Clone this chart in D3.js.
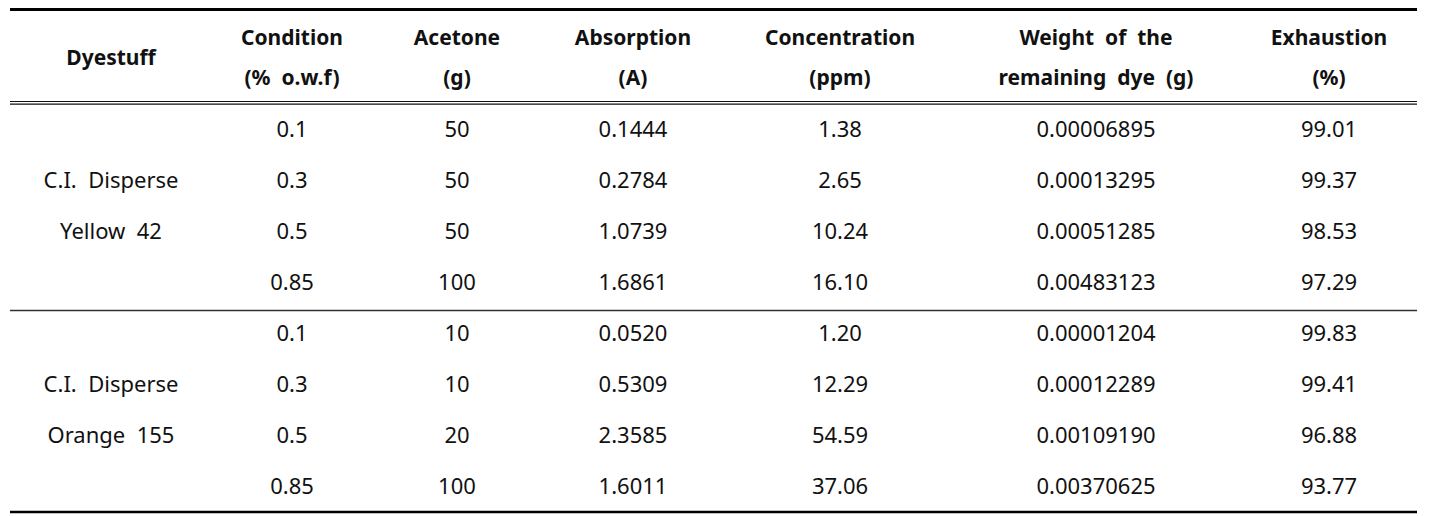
<!DOCTYPE html>
<html>
<head>
<meta charset="utf-8">
<script src="https://cdn.jsdelivr.net/npm/d3@7"></script>
<style>
html,body{margin:0;padding:0;background:#fff;}
svg{display:block;}
text{font-family:"Noto Sans","Open Sans",sans-serif;fill:#111;white-space:pre;}
</style>
</head>
<body>
<svg id="chart" width="1436" height="516"></svg>
<script>
// ---- data ----
const headerLine1 = ["Dyestuff", "Condition", "Acetone", "Absorption", "Concentration", "Weight  of  the", "Exhaustion"];
const headerLine2 = ["", "(%  o.w.f)", "(g)", "(A)", "(ppm)", "remaining  dye  (g)", "(%)"];
const dyeGroups = [["C.I.  Disperse", "Yellow  42"], ["C.I.  Disperse", "Orange  155"]];
const condition = ["0.1", "0.3", "0.5", "0.85", "0.1", "0.3", "0.5", "0.85"];
const acetone = ["50", "50", "50", "100", "10", "10", "20", "100"];
const absorption = ["0.1444", "0.2784", "1.0739", "1.6861", "0.0520", "0.5309", "2.3585", "1.6011"];
const concentration = ["1.38", "2.65", "10.24", "16.10", "1.20", "12.29", "54.59", "37.06"];
const remainingDye = ["0.00006895", "0.00013295", "0.00051285", "0.00483123", "0.00001204", "0.00012289", "0.00109190", "0.00370625"];
const exhaustion = ["99.01", "99.37", "98.53", "97.29", "99.83", "99.41", "96.88", "93.77"];

// ---- layout ----
const colCenters = [111, 292, 457, 633, 840, 1096, 1329];
const left = 10, right = 1417;
const bodySize = 22, headSize = 21;

const svg = d3.select("#chart");
const x = d3.scaleOrdinal().domain(d3.range(7)).range(colCenters);
const y = d3.scaleBand().domain(d3.range(8)).range([104, 512]);
const yc = i => y(i) + y.bandwidth() / 2 - 1.5;

// header
const hdr = svg.append("g");
hdr.selectAll("text.h1").data(headerLine1).join("text")
  .attr("class", "h1")
  .attr("x", (d, i) => x(i))
  .attr("y", (d, i) => i === 0 ? 57 : 37)
  .attr("text-anchor", "middle").attr("dominant-baseline", "central")
  .attr("font-size", headSize).attr("font-weight", "bold")
  .text(d => d);
hdr.selectAll("text.h2").data(headerLine2).join("text")
  .attr("class", "h2")
  .attr("x", (d, i) => x(i))
  .attr("y", 77)
  .attr("text-anchor", "middle").attr("dominant-baseline", "central")
  .attr("font-size", headSize).attr("font-weight", "bold")
  .text(d => d);

// body columns
const cols = [condition, acetone, absorption, concentration, remainingDye, exhaustion];
cols.forEach((arr, ci) => {
  svg.append("g").selectAll("text").data(arr).join("text")
    .attr("x", x(ci + 1))
    .attr("y", (d, i) => yc(i))
    .attr("text-anchor", "middle").attr("dominant-baseline", "central")
    .attr("font-size", bodySize)
    .text(d => d);
});

// dyestuff group labels
dyeGroups.forEach((lines, g) => {
  svg.append("g").selectAll("text").data(lines).join("text")
    .attr("x", x(0))
    .attr("y", (d, k) => yc(g * 4 + 1 + k))
    .attr("text-anchor", "middle").attr("dominant-baseline", "central")
    .attr("font-size", bodySize)
    .text(d => d);
});

// rules
const rule = (yy, w, c) => svg.append("line")
  .attr("x1", left).attr("x2", right).attr("y1", yy).attr("y2", yy)
  .attr("stroke", c).attr("stroke-width", w);
rule(9.5, 3, "#000");
rule(101.5, 1.2, "#111");
rule(104.2, 1.2, "#111");
rule(y(4) + 2.5, 1.5, "#333");
rule(512, 2.6, "#000");
</script>
</body>
</html>
